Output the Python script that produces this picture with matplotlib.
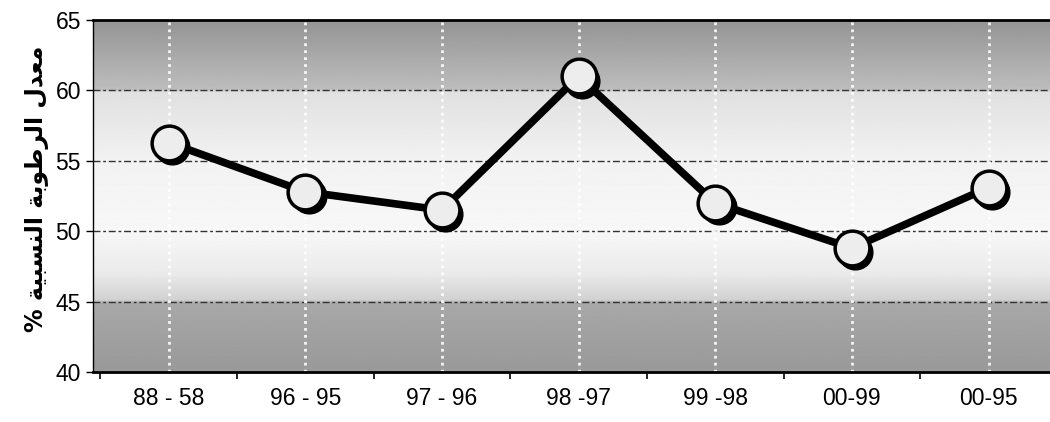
import matplotlib
matplotlib.use('Agg')
import matplotlib.pyplot as plt
import matplotlib.transforms as mtransforms
import numpy as np

# relative humidity (%) per period
PERIODS = ['88 - 58', '96 - 95', '97 - 96', '98 -97', '99 -98', '00-99', '00-95']
HUMIDITY = [56.3, 52.8, 51.5, 61.0, 52.0, 48.8, 53.1]
Y_TICKS = [40, 45, 50, 55, 60, 65]

# Arabic label written in presentation forms, visual order (matplotlib does no shaping)
# logical text: "معدل الرطوبة النسبية %"
W_MAADAL = '\uFEDD\uFEAA\uFECC\uFEE3'
W_RUTUBA = '\uFE94\uFE91\uFEEE\uFEC3\uFEAE\uFEDF\uFE8D'
W_NISBIYA = '\uFE94\uFEF4\uFE92\uFEB4\uFEE8\uFEDF\uFE8D'
Y_LABEL = '% ' + W_NISBIYA + ' ' + W_RUTUBA + ' ' + W_MAADAL

plt.rcParams['font.family'] = ['Liberation Sans', 'DejaVu Sans']

fig = plt.figure(figsize=(10.5, 4.22), dpi=100)
ax = fig.add_axes([0.089, 0.1185, 0.911, 0.834])

x = np.arange(len(PERIODS))
ax.set_xlim(-0.55, 6.45)
ax.set_ylim(40, 65)

# shaded background: dark at top and bottom, light in the middle
ys = np.linspace(40, 65, 400)
shade = np.interp(ys, [40, 44.9, 45.1, 47, 50, 55, 59.9, 60.1, 62, 65],
                  [0.60, 0.66, 0.82, 0.92, 0.97, 0.95, 0.88, 0.74, 0.68, 0.58])
ax.imshow(shade[:, None], cmap='gray', vmin=0, vmax=1, aspect='auto',
          extent=(-0.55, 6.45, 40, 65), origin='lower', zorder=0)

# grid
for yv in [45, 50, 55, 60]:
    ax.axhline(yv, color='#333333', lw=1.0, ls=(0, (5, 2, 2, 2)), zorder=1)
for xv in x:
    ax.axvline(xv, color='white', lw=2, ls=(0, (1, 1.5)), alpha=0.9, zorder=1)

# shadow under the markers
shadow = mtransforms.offset_copy(ax.transData, fig=fig, x=2.5, y=-3, units='points')
ax.plot(x, HUMIDITY, ls='none', marker='o', ms=25, mfc='black',
        mec='black', transform=shadow, zorder=3)
ax.plot(x, HUMIDITY, color='black', lw=5.5, zorder=3)
ax.plot(x, HUMIDITY, ls='none', marker='o', ms=25, mfc='#ededed',
        mec='black', mew=2.5, zorder=4)

ax.set_xticks(x)
ax.set_xticklabels(PERIODS, fontsize=16.5)
ax.set_xticks(np.arange(-0.5, 6.5, 1), minor=True)
ax.tick_params(axis='x', which='major', length=0, pad=11)
ax.tick_params(axis='x', which='minor', length=5, width=1.2, direction='out')
ax.set_yticks(Y_TICKS)
ax.set_yticklabels([str(v) for v in Y_TICKS], fontsize=16.5)
ax.tick_params(axis='y', length=5, width=1, pad=4)

ax.spines['right'].set_visible(False)
ax.spines['top'].set_linewidth(2)
ax.spines['bottom'].set_linewidth(2)
ax.spines['left'].set_linewidth(1)

ax.set_ylabel(Y_LABEL, fontsize=17, fontweight='bold', family=['DejaVu Sans'])
ax.yaxis.set_label_coords(-0.046, 0.52)

fig.savefig('out.png', dpi=100)
